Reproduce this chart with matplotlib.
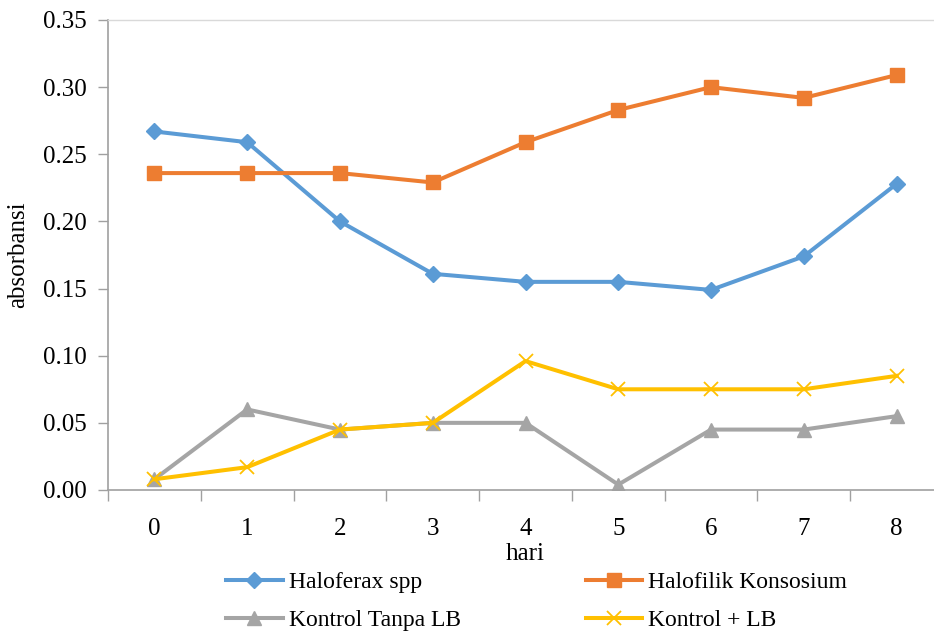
import matplotlib
matplotlib.use("Agg")
import matplotlib.pyplot as plt

plt.rcParams['font.family'] = ['Liberation Serif', 'DejaVu Serif']

# hari pengamatan dan nilai absorbansi
hari = [0, 1, 2, 3, 4, 5, 6, 7, 8]
haloferax = [0.267, 0.259, 0.200, 0.161, 0.155, 0.155, 0.149, 0.174, 0.228]
halofilik = [0.236, 0.236, 0.236, 0.229, 0.259, 0.283, 0.300, 0.292, 0.309]
kontrol_tanpa_lb = [0.008, 0.060, 0.045, 0.050, 0.050, 0.004, 0.045, 0.045, 0.055]
kontrol_lb = [0.008, 0.017, 0.045, 0.050, 0.096, 0.075, 0.075, 0.075, 0.085]
y_ticks = [0.00, 0.05, 0.10, 0.15, 0.20, 0.25, 0.30, 0.35]

fig = plt.figure(figsize=(9.34, 6.33), dpi=100)
ax = fig.add_axes([108 / 934, 143 / 633, 835 / 934, 470 / 633])

lw = 2.9
l1, = ax.plot(hari, haloferax, color='#5B9BD5', lw=lw, marker='D', ms=8, label='Haloferax spp')
l2, = ax.plot(hari, halofilik, color='#ED7D31', lw=lw, marker='s', ms=9.5, label='Halofilik Konsosium')
l3, = ax.plot(hari, kontrol_tanpa_lb, color='#A5A5A5', lw=lw, marker='^', ms=10.5, label='Kontrol Tanpa LB')
l4, = ax.plot(hari, kontrol_lb, color='#FFC000', lw=lw, marker='x', ms=10, mew=1.3, label='Kontrol + LB')

ax.set_xlim(-0.5, 8.5)
ax.set_ylim(0, 0.35)
ax.set_yticks(y_ticks)
ax.set_yticklabels([f'{v:.2f}' for v in y_ticks])
ax.set_xticks(hari)
ax.set_xticks([k + 0.5 for k in range(-1, 9)], minor=True)
ax.tick_params(axis='x', which='major', length=0, pad=20, labelsize=18)
ax.tick_params(axis='x', which='minor', length=8, color='#A0A0A0', width=1)
ax.tick_params(axis='y', length=7, color='#A0A0A0', width=1, pad=8, labelsize=18)

for s in ['left', 'bottom']:
    ax.spines[s].set_color('#A0A0A0')
    ax.spines[s].set_linewidth(1.2)
ax.spines['right'].set_visible(False)
ax.spines['top'].set_color('#D9D9D9')
ax.spines['top'].set_linewidth(1)

ax.set_xlabel('hari', fontsize=18, labelpad=2)
ax.set_ylabel('absorbansi', fontsize=18, labelpad=10)

fig.legend([l1, l3, l2, l4], [l.get_label() for l in [l1, l3, l2, l4]],
           ncol=2, frameon=False, fontsize=17, handlelength=2.4,
           columnspacing=5.3, labelspacing=0.7, handletextpad=0.25,
           borderpad=0, borderaxespad=0,
           loc='lower left', bbox_to_anchor=(226 / 934, 2 / 633))

fig.savefig('out.png', dpi=100)
